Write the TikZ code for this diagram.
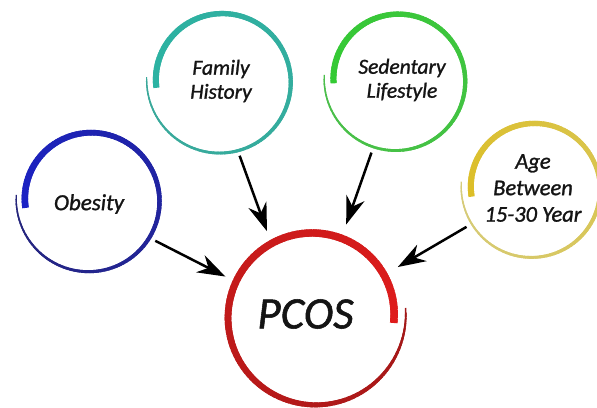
\documentclass[tikz,border=0pt]{standalone}
\usepackage{fontspec}
\setmainfont{Carlito}[ItalicFeatures={FakeBold=1.2}]
\usetikzlibrary{arrows.meta}
\definecolor{obThick}{HTML}{1B22C6}
\definecolor{obThin}{HTML}{26267A}
\definecolor{fhThick}{HTML}{2BB3A3}
\definecolor{fhThin}{HTML}{3AA89A}
\definecolor{sdThick}{HTML}{33CA33}
\definecolor{sdThin}{HTML}{4CBE4C}
\definecolor{agThick}{HTML}{DCBE26}
\definecolor{agThin}{HTML}{D6CC7C}
\definecolor{pcThick}{HTML}{E01C1C}
\definecolor{pcThin}{HTML}{A21818}
\definecolor{txt}{HTML}{141414}
% brush-stroke ring: cx cy angle0 angle1 r0 r1 w0 w1 ; uses \ringthin \ringthick \ringpow
\newcommand\brushring[8]{%
  \foreach \i in {0,...,119}{%
    \pgfmathsetmacro\ta{\i/120}%
    \pgfmathsetmacro\tb{min((\i+1.8)/120,1)}%
    \pgfmathsetmacro\aa{#3+(#4-#3)*\ta}%
    \pgfmathsetmacro\ab{#3+(#4-#3)*\tb}%
    \pgfmathsetmacro\ra{#5+(#6-#5)*\ta}%
    \pgfmathsetmacro\rb{#5+(#6-#5)*\tb}%
    \pgfmathsetmacro\wa{0.5*(#7+(#8-#7)*(1-(max(1-\ta,0.0001))^\ringpow))}%
    \pgfmathsetmacro\wb{0.5*(#7+(#8-#7)*(1-(max(1-\tb,0.0001))^\ringpow))}%
    \pgfmathtruncatemacro\mx{100*\ta}%
    \colorlet{ringc}{\ringthick!\mx!\ringthin}%
    \fill[ringc] ({#1+(\ra+\wa)*cos(\aa)},{#2+(\ra+\wa)*sin(\aa)})
      -- ({#1+(\rb+\wb)*cos(\ab)},{#2+(\rb+\wb)*sin(\ab)})
      -- ({#1+(\rb-\wb)*cos(\ab)},{#2+(\rb-\wb)*sin(\ab)})
      -- ({#1+(\ra-\wa)*cos(\aa)},{#2+(\ra-\wa)*sin(\aa)}) -- cycle;
  }}
\tikzset{
  src/.style={circle, minimum size=154pt, inner sep=0pt, outer sep=0pt},
  sink/.style={circle, minimum size=194pt, inner sep=0pt, outer sep=0pt},
  lbl/.style={font=\fontsize{21.5}{24}\selectfont\itshape, align=center, text=txt},
  lblob/.style={font=\fontsize{23}{26}\selectfont\itshape, align=center, text=txt},
  lblage/.style={font=\fontsize{22.5}{26.5}\selectfont\itshape, align=center, text=txt},
  lblbig/.style={font=\fontsize{45}{50}\selectfont\itshape, align=center, text=txt},
  arr/.style={line width=2.5pt, draw=black, -{Stealth[length=28pt,width=19pt,inset=9pt]}}
}
\begin{document}
\begin{tikzpicture}[x=1pt,y=-1pt]
\useasboundingbox (0,0) rectangle (597,407);
\fill[white] (0,0) rectangle (597,407);
\clip (0,0) rectangle (597,407);
% rings
\def\ringpow{1.4}
\def\ringthin{obThin}\def\ringthick{obThick}
\brushring{90}{200}{184}{-187}{74}{65}{1.2}{6.5}
\def\ringthin{fhThin}\def\ringthick{fhThick}
\brushring{221}{81}{183}{-186}{74.5}{65}{1.2}{6}
\def\ringthin{sdThin}\def\ringthick{sdThick}
\brushring{397}{80}{184}{-183}{73}{63.5}{1.2}{6}
\def\ringthin{agThin}\def\ringthick{agThick}
\brushring{533}{188}{185}{-188}{72}{62}{1.2}{6}
\def\ringpow{3}
\def\ringthin{pcThin}\def\ringthick{pcThick}
\brushring{314}{316}{-5}{365}{92}{80}{1.4}{7.5}
% nodes
\node[src, label={[lblob, yshift=-4pt, xshift=-1pt]center:Obesity}] (ob) at (90,200) {};
\node[src, label={[lbl]center:Family\\History}] (fh) at (221,81) {};
\node[src, label={[lbl, xshift=5pt]center:Sedentary\\Lifestyle}] (sd) at (397,80) {};
\node[src, label={[lblage]center:Age\\Between\\15-30 Year}] (ag) at (533,188) {};
\node[sink, label={[lblbig, xshift=-8.5pt, yshift=2pt]center:PCOS}] (pc) at (314,316) {};
% connectors
\draw[arr] (ob.-32) -- (pc.156);
\draw[arr] (fh.-76) -- (pc.119);
\draw[arr] (sd) -- (pc);
\draw[arr] (ag) -- (pc);
\end{tikzpicture}
\end{document}
